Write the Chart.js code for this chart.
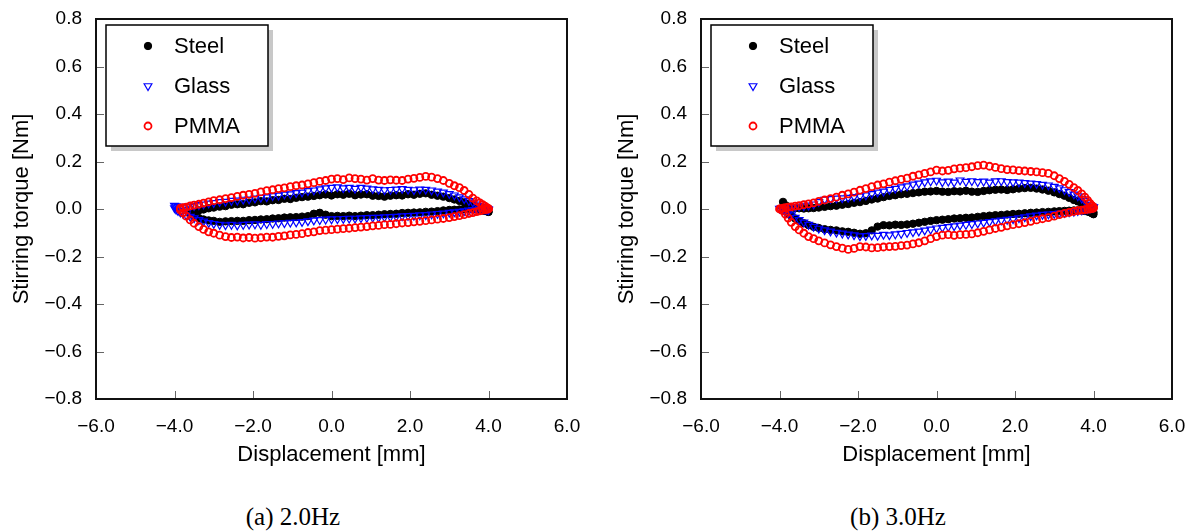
<!DOCTYPE html>
<html lang="en">
<head>
<meta charset="UTF-8">
<title>Stirring torque vs displacement</title>
<script src="https://cdn.jsdelivr.net/npm/chart.js"></script>
<style>
    body {
        margin: 0;
        background: #ffffff;
        width: 1196px;
        height: 532px;
        position: relative;
        overflow: hidden;
    }
    .panel {
        position: absolute;
        top: 0;
    }
    #panelA { left: 0; }
    #panelB { left: 605px; }
    .caption {
        position: absolute;
        top: 502px;
        width: 200px;
        text-align: center;
        font-family: "Liberation Serif", "Times New Roman", serif;
        font-size: 25px;
        line-height: 30px;
        color: #000;
    }
</style>
</head>
<body>

<canvas id="panelA" class="panel" width="590" height="470"></canvas>
<canvas id="panelB" class="panel" width="590" height="470"></canvas>
<div class="caption" style="left:193px">(a) 2.0Hz</div>
<div class="caption" style="left:798px">(b) 3.0Hz</div>

<script>
// displacement samples [mm]; denser near the turning points of the stroke
const disp = [
    -4.0, -3.96, -3.91, -3.85, -3.78, -3.7, -3.6, -3.5, -3.38, -3.26,
    -3.13, -3.0, -2.85, -2.7, -2.55, -2.4, -2.25, -2.1, -1.95, -1.8,
    -1.65, -1.5, -1.35, -1.2, -1.05, -0.9, -0.75, -0.6, -0.45, -0.3,
    -0.15, 0.0, 0.15, 0.3, 0.45, 0.6, 0.75, 0.9, 1.05, 1.2,
    1.35, 1.5, 1.65, 1.8, 1.95, 2.1, 2.25, 2.4, 2.55, 2.7,
    2.85, 3.0, 3.13, 3.26, 3.38, 3.5, 3.6, 3.7, 3.78, 3.85,
    3.91, 3.96, 4.0
];

const materials = ['Steel', 'Glass', 'PMMA'];

// stirring torque [Nm] at 2.0 Hz: upper and lower branch of each loop
const steelUp2 = [
    null, null, null, null, null, null, -0.018, -0.012, -0.006, -0.002,
    0.003, 0.006, 0.01, 0.012, 0.018, 0.02, 0.02, 0.026, 0.028, 0.033,
    0.032, 0.037, 0.038, 0.043, 0.042, 0.047, 0.05, 0.052, 0.055, 0.058,
    0.061, 0.057, 0.062, 0.06, 0.064, 0.058, 0.061, 0.062, 0.056, 0.055,
    0.052, 0.056, 0.058, 0.057, 0.062, 0.06, 0.064, 0.066, 0.06, 0.056,
    0.052, 0.046, 0.04, 0.034, 0.028, 0.022, 0.016, 0.01, 0.004, 0.0,
    -0.004, -0.008, -0.012
];
const steelDn2 = [
    null, null, null, null, null, null, -0.022, -0.03, -0.038, -0.044,
    -0.048, -0.05, -0.054, -0.052, -0.051, -0.05, -0.05, -0.047, -0.046, -0.044,
    -0.043, -0.04, -0.039, -0.036, -0.035, -0.034, -0.032, -0.03, -0.02, -0.016,
    -0.024, -0.03, -0.029, -0.03, -0.028, -0.03, -0.028, -0.026, -0.026, -0.024,
    -0.022, -0.021, -0.02, -0.017, -0.016, -0.015, -0.014, -0.012, -0.011, -0.009,
    -0.006, -0.004, -0.003, -0.002, 0.0, 0.001, 0.0, -0.002, -0.004, -0.006,
    -0.008, -0.01, -0.012
];
const glassUp2 = [
    0.014, 0.012, 0.01, 0.008, 0.008, 0.01, 0.01, 0.013, 0.017, 0.02,
    0.024, 0.026, 0.03, 0.031, 0.035, 0.036, 0.04, 0.041, 0.045, 0.048,
    0.05, 0.055, 0.057, 0.062, 0.063, 0.068, 0.07, 0.076, 0.079, 0.084,
    0.088, 0.09, 0.092, 0.088, 0.09, 0.086, 0.09, 0.087, 0.084, 0.082,
    0.08, 0.081, 0.083, 0.085, 0.082, 0.08, 0.083, 0.082, 0.079, 0.074,
    0.07, 0.064, 0.058, 0.05, 0.042, 0.034, 0.028, 0.02, 0.014, 0.01,
    0.006, 0.003, 0.0
];
const glassDn2 = [
    0.004, -0.002, -0.008, -0.014, -0.02, -0.026, -0.032, -0.038, -0.046, -0.052,
    -0.058, -0.062, -0.066, -0.068, -0.066, -0.069, -0.066, -0.065, -0.064, -0.066,
    -0.063, -0.062, -0.06, -0.059, -0.057, -0.056, -0.054, -0.051, -0.048, -0.046,
    -0.044, -0.043, -0.042, -0.041, -0.04, -0.04, -0.038, -0.037, -0.036, -0.036,
    -0.034, -0.033, -0.032, -0.03, -0.029, -0.028, -0.026, -0.025, -0.022, -0.02,
    -0.018, -0.015, -0.013, -0.011, -0.009, -0.006, -0.004, -0.002, 0.0, 0.0,
    -0.002, -0.003, -0.004
];
const pmmaUp2 = [
    null, null, null, 0.004, 0.006, 0.008, 0.013, 0.016, 0.02, 0.025,
    0.03, 0.035, 0.039, 0.044, 0.048, 0.053, 0.058, 0.062, 0.066, 0.072,
    0.077, 0.081, 0.086, 0.089, 0.094, 0.098, 0.101, 0.106, 0.111, 0.116,
    0.12, 0.126, 0.128, 0.124, 0.131, 0.128, 0.126, 0.122, 0.128, 0.122,
    0.12, 0.123, 0.121, 0.12, 0.126, 0.129, 0.133, 0.137, 0.134, 0.128,
    0.12, 0.108, 0.098, 0.09, 0.078, 0.062, 0.046, 0.034, 0.026, 0.018,
    0.012, 0.006, 0.002
];
const pmmaDn2 = [
    null, null, null, -0.004, -0.016, -0.03, -0.046, -0.06, -0.074, -0.086,
    -0.096, -0.102, -0.11, -0.116, -0.12, -0.118, -0.122, -0.12, -0.123, -0.121,
    -0.118, -0.119, -0.115, -0.113, -0.109, -0.107, -0.104, -0.099, -0.096, -0.091,
    -0.089, -0.087, -0.085, -0.083, -0.081, -0.078, -0.076, -0.074, -0.071, -0.069,
    -0.066, -0.065, -0.062, -0.059, -0.057, -0.054, -0.052, -0.049, -0.046, -0.043,
    -0.04, -0.036, -0.032, -0.028, -0.024, -0.019, -0.015, -0.011, -0.008, -0.005,
    -0.003, -0.001, 0.0
];

// stirring torque [Nm] at 3.0 Hz
const steelUp3 = [
    null, null, 0.03, 0.016, 0.01, 0.006, 0.004, 0.003, 0.002, 0.003,
    0.004, 0.006, 0.009, 0.012, 0.014, 0.018, 0.021, 0.026, 0.029, 0.034,
    0.04, 0.044, 0.05, 0.055, 0.058, 0.062, 0.064, 0.067, 0.07, 0.073,
    0.074, 0.076, 0.073, 0.072, 0.075, 0.074, 0.077, 0.073, 0.072, 0.076,
    0.079, 0.081, 0.082, 0.08, 0.083, 0.086, 0.088, 0.089, 0.086, 0.082,
    0.077, 0.07, 0.063, 0.056, 0.047, 0.038, 0.032, 0.024, 0.016, 0.008,
    0.0, -0.008, -0.014
];
const steelDn3 = [
    null, null, null, -0.01, -0.018, -0.028, -0.04, -0.05, -0.06, -0.068,
    -0.075, -0.08, -0.085, -0.088, -0.09, -0.094, -0.096, -0.1, -0.104, -0.102,
    -0.09, -0.074, -0.068, -0.069, -0.066, -0.067, -0.065, -0.062, -0.058, -0.054,
    -0.05, -0.047, -0.045, -0.043, -0.04, -0.039, -0.037, -0.036, -0.033, -0.03,
    -0.028, -0.026, -0.025, -0.023, -0.021, -0.02, -0.018, -0.016, -0.015, -0.013,
    -0.012, -0.01, -0.009, -0.008, -0.007, -0.006, -0.006, -0.007, -0.008, -0.011,
    -0.014, -0.018, -0.022
];
const glassUp3 = [
    0.002, 0.003, 0.004, 0.005, 0.006, 0.007, 0.008, 0.01, 0.012, 0.015,
    0.02, 0.03, 0.04, 0.043, 0.045, 0.046, 0.048, 0.051, 0.054, 0.058,
    0.064, 0.07, 0.074, 0.081, 0.086, 0.092, 0.096, 0.104, 0.108, 0.113,
    0.117, 0.12, 0.113, 0.116, 0.112, 0.121, 0.115, 0.118, 0.114, 0.116,
    0.112, 0.117, 0.118, 0.114, 0.113, 0.112, 0.11, 0.108, 0.106, 0.103,
    0.1, 0.094, 0.088, 0.08, 0.072, 0.062, 0.054, 0.044, 0.034, 0.025,
    0.017, 0.011, 0.008
];
const glassDn3 = [
    null, null, -0.004, -0.01, -0.018, -0.026, -0.036, -0.046, -0.056, -0.066,
    -0.074, -0.082, -0.089, -0.094, -0.099, -0.103, -0.107, -0.11, -0.114, -0.113,
    -0.111, -0.112, -0.108, -0.11, -0.106, -0.104, -0.1, -0.097, -0.094, -0.09,
    -0.086, -0.081, -0.078, -0.075, -0.072, -0.069, -0.066, -0.063, -0.06, -0.057,
    -0.054, -0.051, -0.048, -0.045, -0.042, -0.038, -0.034, -0.03, -0.027, -0.024,
    -0.022, -0.02, -0.018, -0.016, -0.013, -0.011, -0.008, -0.005, -0.002, 0.0,
    0.003, 0.005, 0.007
];
const pmmaUp3 = [
    0.0, 0.002, 0.004, 0.006, 0.008, 0.009, 0.012, 0.014, 0.018, 0.022,
    0.026, 0.032, 0.038, 0.044, 0.05, 0.058, 0.064, 0.071, 0.079, 0.086,
    0.094, 0.101, 0.106, 0.113, 0.119, 0.125, 0.13, 0.138, 0.144, 0.15,
    0.156, 0.164, 0.16, 0.163, 0.169, 0.172, 0.174, 0.178, 0.183, 0.185,
    0.18, 0.175, 0.17, 0.166, 0.165, 0.162, 0.16, 0.158, 0.156, 0.153,
    0.15, 0.14, 0.128, 0.116, 0.104, 0.09, 0.078, 0.064, 0.05, 0.036,
    0.024, 0.014, 0.008
];
const pmmaDn3 = [
    null, null, -0.008, -0.022, -0.038, -0.056, -0.074, -0.088, -0.102, -0.116,
    -0.125, -0.134, -0.143, -0.151, -0.158, -0.165, -0.17, -0.166, -0.158, -0.16,
    -0.164, -0.163, -0.16, -0.158, -0.157, -0.154, -0.152, -0.147, -0.142, -0.134,
    -0.125, -0.116, -0.11, -0.108, -0.111, -0.108, -0.107, -0.105, -0.1, -0.094,
    -0.088, -0.082, -0.077, -0.071, -0.066, -0.062, -0.057, -0.052, -0.046, -0.041,
    -0.036, -0.03, -0.024, -0.018, -0.014, -0.01, -0.007, -0.005, -0.003, -0.001,
    0.0, 0.002, 0.004
];

const SANS = '"Liberation Sans", Arial, sans-serif';

// join both branches of a loop into one list of points
function loop(up, down) {
    const pts = [];
    disp.forEach((x, i) => { if (up[i] != null) pts.push({ x: x, y: up[i] }); });
    disp.forEach((x, i) => { if (down[i] != null) pts.push({ x: x, y: down[i] }); });
    return pts;
}

function fmt(v) {
    if (Math.abs(v) < 1e-9) return '0.0';
    return (v < 0 ? '\u2212' : '') + Math.abs(v).toFixed(1);
}

function drawMarker(ctx, ds, x, y) {
    const opts = {
        pointStyle: ds.pointStyle,
        radius: ds.pointRadius,
        rotation: ds.pointRotation || 0,
        borderWidth: ds.borderWidth
    };
    ctx.save();
    ctx.fillStyle = ds.backgroundColor;
    ctx.strokeStyle = ds.borderColor;
    ctx.lineWidth = ds.borderWidth;
    Chart.helpers.drawPoint(ctx, opts, x, y);
    ctx.restore();
}

// frame around the plot plus short inward ticks
const frameTicks = {
    id: 'frameTicks',
    afterDatasetsDraw(chart) {
        const { ctx, chartArea: a, scales } = chart;
        ctx.save();
        ctx.strokeStyle = '#666';
        ctx.lineWidth = 1;
        scales.x.ticks.forEach((t, i) => {
            const px = Math.round(scales.x.getPixelForTick(i)) + 0.5;
            ctx.beginPath();
            ctx.moveTo(px, a.bottom);
            ctx.lineTo(px, a.bottom - 8);
            ctx.stroke();
        });
        scales.y.ticks.forEach((t, i) => {
            const py = Math.round(scales.y.getPixelForTick(i)) + 0.5;
            ctx.beginPath();
            ctx.moveTo(a.left, py);
            ctx.lineTo(a.left + 8, py);
            ctx.stroke();
        });
        ctx.strokeStyle = '#111';
        ctx.lineWidth = 2;
        ctx.strokeRect(a.left, a.top, a.right - a.left, a.bottom - a.top);
        ctx.restore();
    }
};

// boxed legend with drop shadow in the top-left corner
const boxLegend = {
    id: 'boxLegend',
    afterDraw(chart) {
        const { ctx, chartArea: a } = chart;
        const x0 = a.left + 10, y0 = a.top + 6, w = 162, h = 121;
        ctx.save();
        ctx.fillStyle = '#c8c8c8';
        ctx.fillRect(x0 + 5, y0 + 5, w, h);
        ctx.fillStyle = '#ffffff';
        ctx.fillRect(x0, y0, w, h);
        ctx.strokeStyle = '#000';
        ctx.lineWidth = 1.5;
        ctx.strokeRect(x0, y0, w, h);
        ctx.font = '22px ' + SANS;
        ctx.textBaseline = 'middle';
        chart.data.datasets.forEach((ds, i) => {
            const cy = y0 + 21 + i * 40;
            drawMarker(ctx, ds, x0 + 42, cy);
            ctx.fillStyle = '#000';
            ctx.fillText(ds.label, x0 + 68, cy + 1);
        });
        ctx.restore();
    }
};

// invisible tick marks only push the labels away from the axis line
const hiddenTicks = { display: true, drawOnChartArea: false, drawTicks: true, tickLength: 10, color: 'rgba(0,0,0,0)' };

function makePanel(id, steel, glass, pmma) {
    const ctx = document.getElementById(id).getContext('2d');
    return new Chart(ctx, {
        type: 'scatter',
        data: {
            datasets: [
                {
                    label: materials[0], data: steel, order: 3,
                    pointStyle: 'circle', pointRadius: 3.7, borderWidth: 1,
                    backgroundColor: '#000000', borderColor: '#000000'
                },
                {
                    label: materials[1], data: glass, order: 2,
                    pointStyle: 'triangle', pointRotation: 180, pointRadius: 4.5, borderWidth: 1.2,
                    backgroundColor: 'rgba(0,0,0,0)', borderColor: '#0000ff'
                },
                {
                    label: materials[2], data: pmma, order: 1,
                    pointStyle: 'circle', pointRadius: 3.5, borderWidth: 1.8,
                    backgroundColor: 'rgba(0,0,0,0)', borderColor: '#ff0000'
                }
            ]
        },
        options: {
            responsive: false,
            animation: false,
            events: [],
            layout: { padding: { left: 0, top: 19, right: 23, bottom: 0 } },
            plugins: { legend: { display: false }, tooltip: { enabled: false } },
            scales: {
                x: {
                    type: 'linear', min: -6, max: 6,
                    grid: hiddenTicks,
                    border: { display: false },
                    ticks: { stepSize: 2, padding: 6, color: '#000', font: { family: SANS, size: 19 }, callback: fmt },
                    title: { display: true, text: 'Displacement [mm]', color: '#000',
                             font: { family: SANS, size: 22 }, padding: { top: 0, bottom: 2 } },
                    afterFit: s => { s.height = 71; }
                },
                y: {
                    type: 'linear', min: -0.8, max: 0.8,
                    grid: hiddenTicks,
                    border: { display: false },
                    ticks: { stepSize: 0.2, padding: 4, color: '#000', font: { family: SANS, size: 19 }, callback: fmt },
                    title: { display: true, text: 'Stirring torque [Nm]', color: '#000',
                             font: { family: SANS, size: 22 }, padding: { top: 9, bottom: 0 } },
                    afterFit: s => { s.width = 96; }
                }
            }
        },
        plugins: [frameTicks, boxLegend]
    });
}

makePanel('panelA', loop(steelUp2, steelDn2), loop(glassUp2, glassDn2), loop(pmmaUp2, pmmaDn2));
makePanel('panelB', loop(steelUp3, steelDn3), loop(glassUp3, glassDn3), loop(pmmaUp3, pmmaDn3));
</script>
</body>
</html>
